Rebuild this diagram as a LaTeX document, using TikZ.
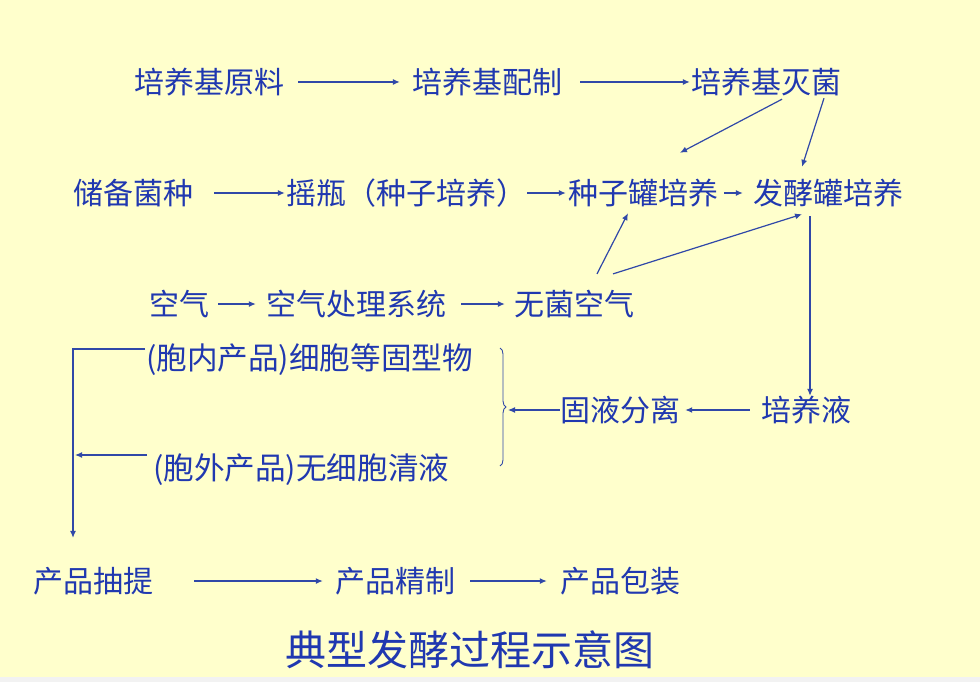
\documentclass[tikz,border=0pt]{standalone}
\usepackage{fontspec}
\newfontfamily\cjk{Noto Sans CJK SC}
\usepackage{tikz}
\usetikzlibrary{positioning, arrows.meta, calc, decorations.pathreplacing}
\definecolor{bgyellow}{HTML}{FFFFCC}
\definecolor{ink}{HTML}{2038B0}
\definecolor{wire}{HTML}{3048A8}
\tikzset{
  stage/.style={inner sep=0pt, text=ink, font=\cjk\fontsize{30}{36}\selectfont},
  prod/.style={stage, font=\cjk\fontsize{30.6}{37}\selectfont},
  flow/.style={draw=wire, line width=1.2pt, -{Latex[length=7pt,width=6pt]}},
}

\begin{document}
\begin{tikzpicture}[x=1pt, y=-1pt]
\fill[bgyellow] (0,0) rectangle (980,682);
\fill[white!90!gray] (0,677) rectangle (980,682);
\useasboundingbox (0,0) rectangle (980,682);

% medium
\node[stage] (yl) at (209,82) {培养基原料};
\node[stage] (pz) at (487,82) {培养基配制};
\node[stage] (mj) at (766,82) {培养基灭菌};
\draw[flow, shorten <=14pt, shorten >=12pt] (yl) -- (pz);
\draw[flow, shorten <=18pt, shorten >=1pt] (pz) -- (mj);

% seed and fermentor
\node[stage] (jz) at (133,193) {储备菌种};
\node[stage] (yp) at (406,193) {摇瓶（种子培养）};
\node[stage] (zzg) at (643,193) {种子罐培养};
\node[stage] (fjg) at (828,193) {发酵罐培养};
\draw[flow, shorten <=21pt, shorten >=1pt] (jz) -- (yp);
\draw[flow, shorten <=1pt, shorten >=2pt] (yp) -- (zzg);
\draw[flow, shorten <=6pt, shorten >=10pt] (zzg) -- (fjg);
\draw[flow] ($(mj.south)+(16,3)$) -- ($(zzg.north)+(37,-26)$);
\draw[flow] ($(mj.south)+(58,2)$) -- ($(fjg.north)+(-26,-12)$);

% air
\node[stage] (kq) at (179,304) {空气};
\node[stage] (kqcl) at (356,304) {空气处理系统};
\node[stage] (wjkq) at (574,304) {无菌空气};
\draw[flow, shorten <=9pt, shorten >=10pt] (kq) -- (kqcl);
\draw[flow, shorten <=15pt, shorten >=9pt] (kqcl) -- (wjkq);
\draw[flow] ($(wjkq.north)+(23,-16)$) -- ($(zzg.south)+(-15,6)$);
\draw[flow] ($(wjkq.north)+(39,-16)$) -- ($(fjg.south)+(-26,7)$);

% products
\node[stage] (cq) at (93,581) {产品抽提};
\node[stage] (jzh) at (395,581) {产品精制};
\node[stage] (bz) at (620,581) {产品包装};
\draw[flow, shorten <=41pt, shorten >=12pt] (cq) -- (jzh);
\draw[flow, shorten <=15pt, shorten >=13pt] (jzh) -- (bz);

% broth and separation
\node[stage] (pyy) at (806,410) {培养液};
\node[stage] (gy) at (620,410) {固液分离};
\node[prod, anchor=west] (gx) at (146,360) {(胞内产品)细胞等固型物};
\node[prod, anchor=west] (qy) at (153,470) {(胞外产品)无细胞清液};
\draw[flow] ($(fjg.south)+(-18,9)$) -- ($(pyy.north)+(4,0)$);
\draw[flow, shorten <=11pt, shorten >=5pt] (pyy) -- (gy);
\draw[wire, line width=0.9pt, decorate, decoration={brace, amplitude=6pt}] (500,348) -- (500,466);
\coordinate (br) at (508,410);
\draw[flow] (gy) -- (br);
\draw[flow] ($(gx.west)+(-1,-11)$) -| ($(cq.north)+(-20,-29)$);
\draw[flow] ($(qy.west)+(-6,-15)$) -- ++(-72,0);

\node[stage, font=\cjk\fontsize{41}{48}\selectfont] (title) at (470,650) {典型发酵过程示意图};
\end{tikzpicture}
\end{document}
